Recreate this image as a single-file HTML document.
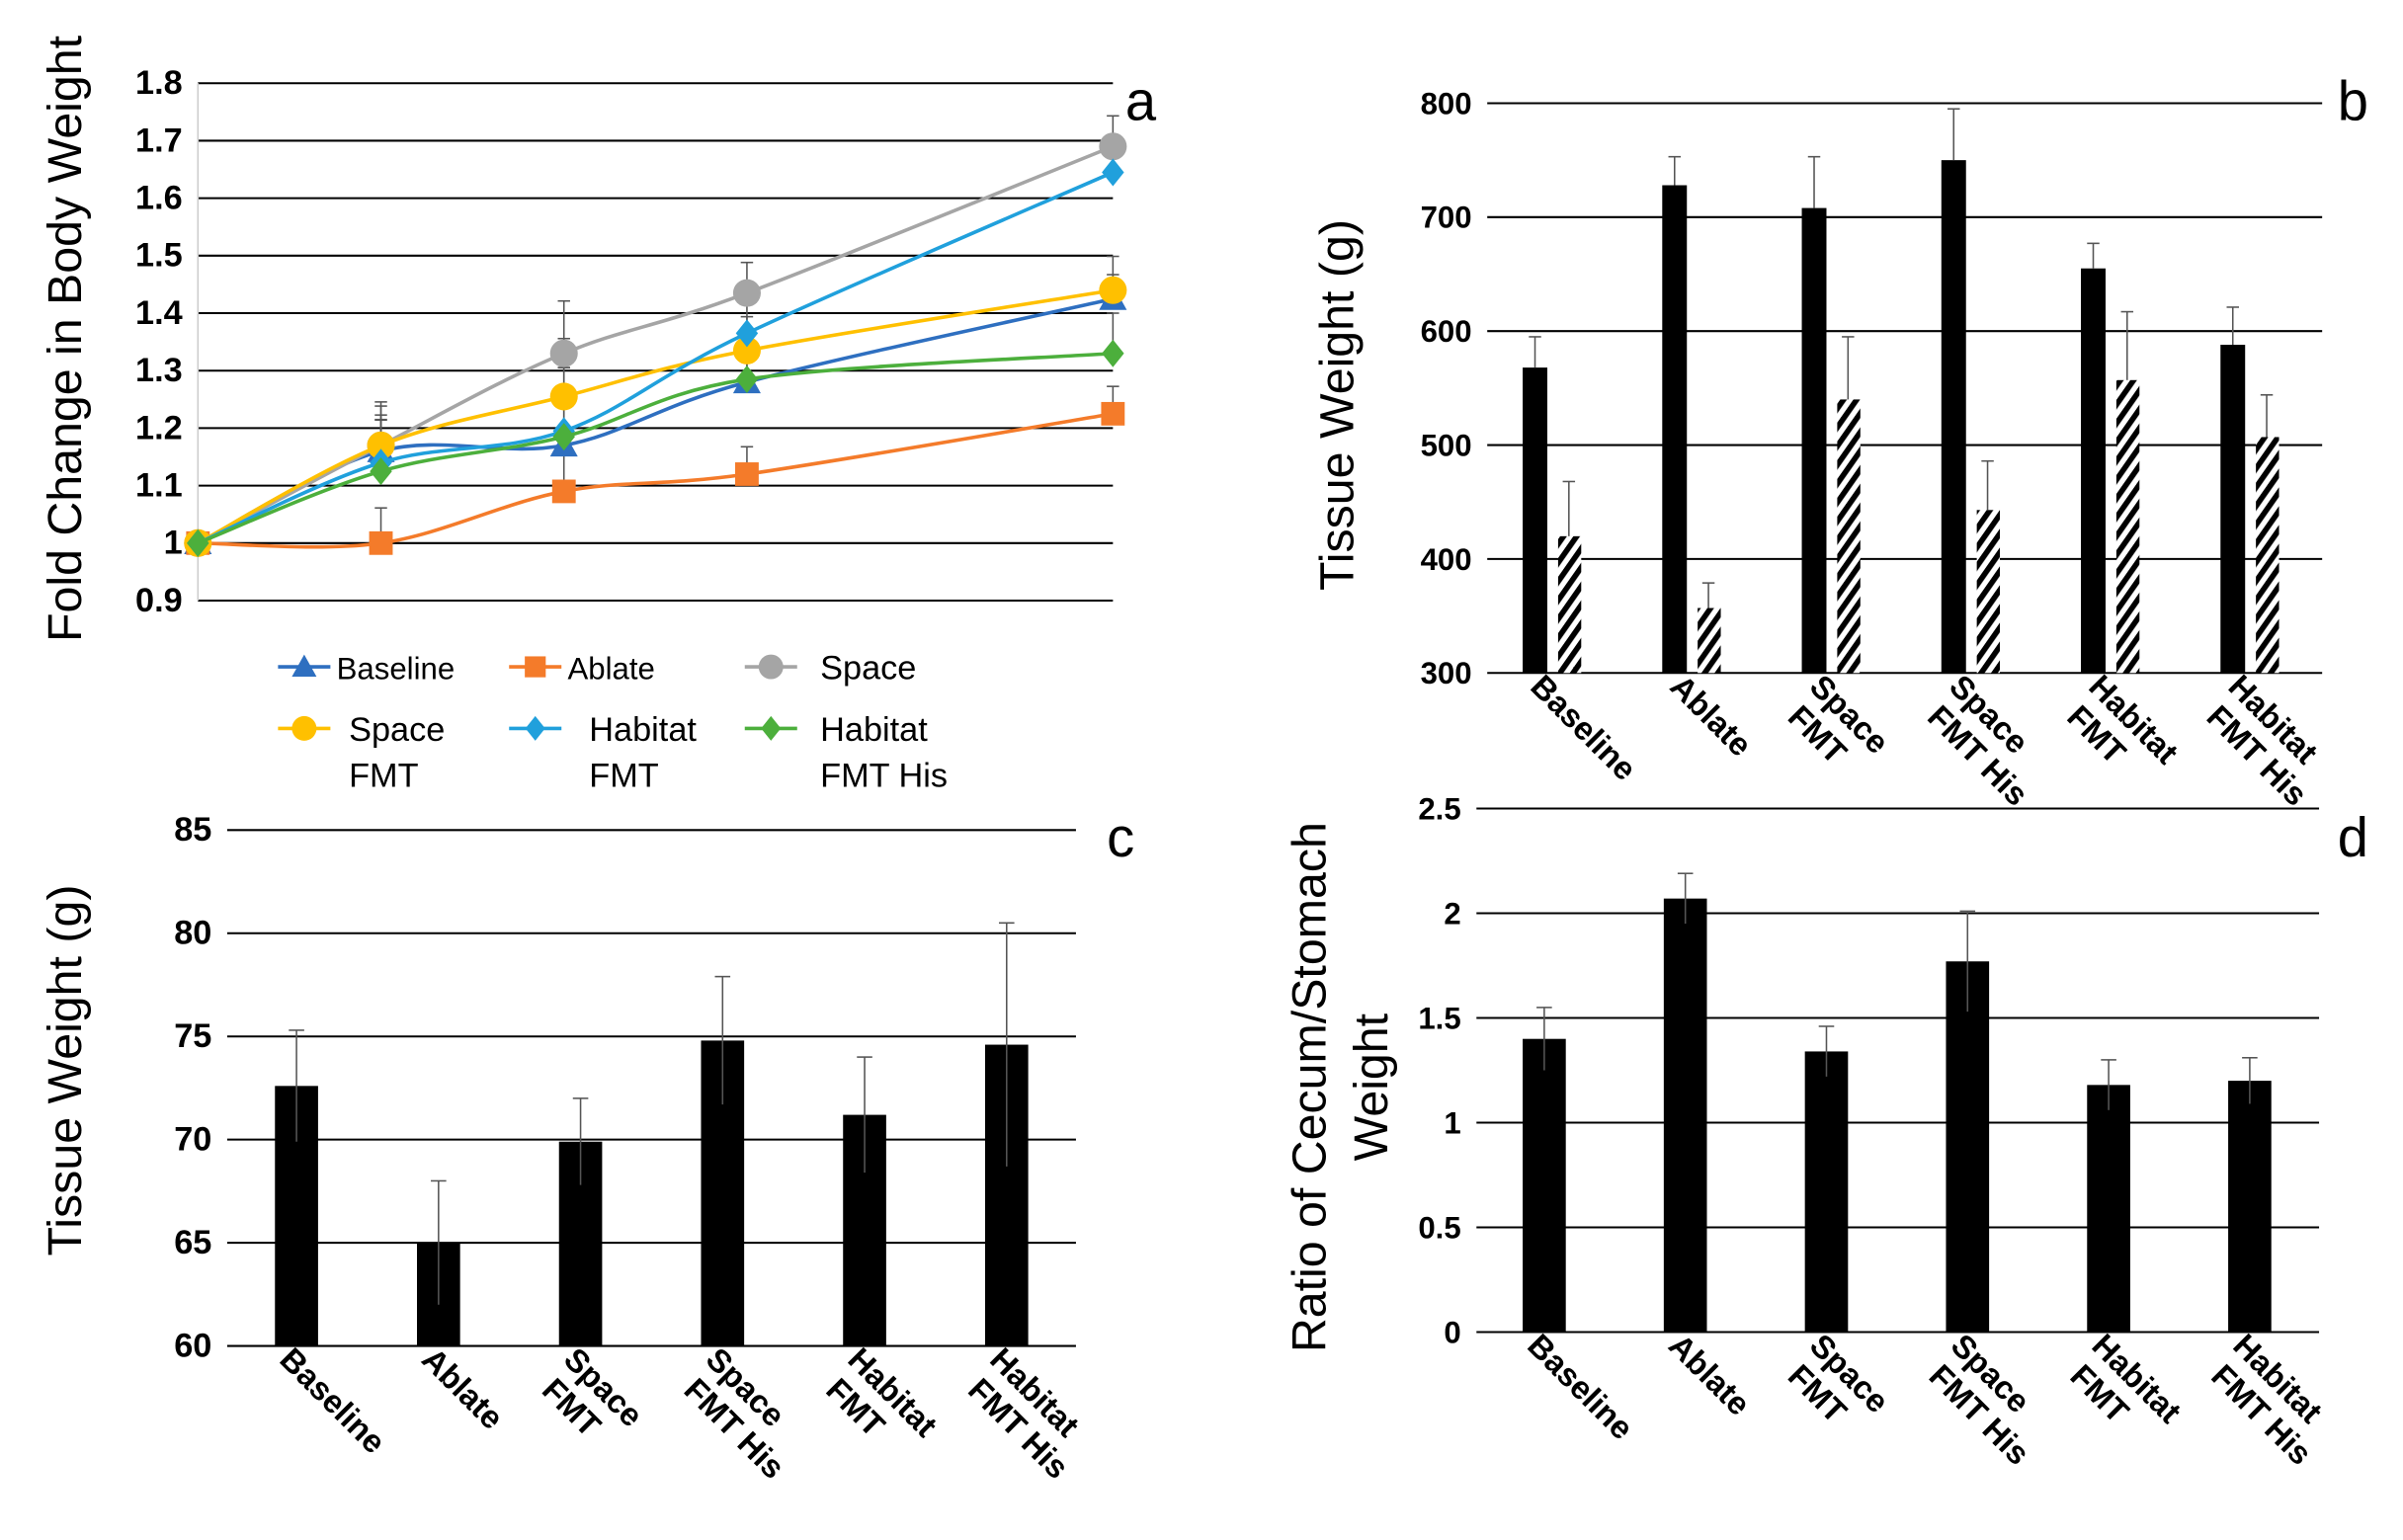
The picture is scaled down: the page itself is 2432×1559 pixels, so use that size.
<!DOCTYPE html>
<html><head><meta charset="utf-8"><style>
html,body{margin:0;padding:0;background:#fff}
svg{display:block;font-family:"Liberation Sans",sans-serif}
</style></head><body>
<svg id="fig" width="2432" height="1559" viewBox="0 0 1559 1000" xmlns="http://www.w3.org/2000/svg"></svg>
<script>
// Panel a data
const aX = [0,1,2,3,5];
const aTicks = [0.9,1,1.1,1.2,1.3,1.4,1.5,1.6,1.7,1.8];
const aNames = ["Baseline","Ablate","Space","Space FMT","Habitat FMT","Habitat FMT His"];
const aBaseline = [1,1.16,1.17,1.28,1.425];
const aAblate = [1,1.0,1.09,1.12,1.225];
const aSpace = [1,1.17,1.33,1.435,1.69];
const aSpaceFMT = [1,1.17,1.255,1.335,1.44];
const aHabFMT = [1,1.14,1.195,1.365,1.645];
const aHabHis = [1,1.125,1.185,1.285,1.33];
const aErr = [0,0.09,0.12,0.07,0.07];
// Panel b
const cats = ["Baseline","Ablate","Space FMT","Space FMT His","Habitat FMT","Habitat FMT His"];
const bTicks = [300,400,500,600,700,800];
const bSolid = [568,728,708,750,655,588];
const bSolidErr = [27,25,45,45,22,33];
const bHatch = [420,357,540,443,557,507];
const bHatchErr = [48,22,55,43,60,37];
// Panel c
const cTicks = [60,65,70,75,80,85];
const cVals = [72.6,65.0,69.9,74.8,71.2,74.6];
const cErr = [2.7,3.0,2.1,3.1,2.8,5.9];
// Panel d
const dTicks = [0,0.5,1,1.5,2,2.5];
const dVals = [1.40,2.07,1.34,1.77,1.18,1.20];
const dErr = [0.15,0.12,0.12,0.24,0.12,0.11];

const svg = document.getElementById('fig');
const NS = "http://www.w3.org/2000/svg";
function mk(tag, attrs, parent, text){
  const e = document.createElementNS(NS, tag);
  for (const k in attrs) e.setAttribute(k, attrs[k]);
  if (text !== undefined) e.textContent = text;
  (parent || svg).appendChild(e);
  return e;
}
const defs = mk('defs', {});
const pat = mk('pattern', {id:'hatch', width:'7', height:'7', patternUnits:'userSpaceOnUse', patternTransform:'rotate(35)'}, defs);
mk('rect', {width:'7', height:'7', fill:'#fff'}, pat);
mk('rect', {width:'3.6', height:'7', fill:'#000'}, pat);

function grid(g, x0, x1, ticks, y, fmt, fs){
  ticks.forEach(t => {
    const l = mk('line', {x1:x0, x2:x1, y1:y(t), y2:y(t), stroke:'#000', 'stroke-width':1.3}, g);
    
    
    const tx = mk('text', {x:x0-10, y:y(t)+7, 'text-anchor':'end', 'font-size':fs, 'font-weight':'bold'}, g, fmt(t));
    
    
  });
}
function errbar(g, x, yv, ye, w){
  mk('line', {x1:x, x2:x, y1:yv, y2:ye, stroke:'#555', 'stroke-width':1}, g);
  mk('line', {x1:x-w, x2:x+w, y1:ye, y2:ye, stroke:'#555', 'stroke-width':1}, g);
}
function catLabels(g, xs, yTop){
  cats.forEach((c, i) => {
    const parts = c === "Baseline" || c === "Ablate" ? [c] : (c.startsWith("Space") ? ["Space", c.slice(6)] : ["Habitat", c.slice(8)]);
    const t = mk('text', {transform:`translate(${xs(i)-12},${yTop+10}) rotate(45)`, 'font-size':21, 'font-weight':'bold'}, g);
    
    
    parts.forEach((p, k) => {
      mk('tspan', {x: k===0 ? 0 : 4, dy: k===0 ? 0 : 24}, t, p);
    });
  });
}

// ---------- Panel a ----------
const ga = mk('g', {});
const ay = v => 390 - (v-0.9)/0.1*37.33;
const ax = v => 128 + v*118.8;
grid(ga, 128, 722, aTicks, ay, t => t===1 ? "1" : t.toFixed(1), 22);
mk('line', {x1:128,x2:128,y1:54,y2:390,stroke:'#ccc','stroke-width':1}, ga);
mk('text', {transform:'translate(52,220) rotate(-90)','text-anchor':'middle','font-size':31,}, ga, 'Fold Change in Body Weight');
mk('text', {x:730,y:78,'font-size':36,}, ga, 'a');
const series = [aBaseline, aAblate, aSpace, aSpaceFMT, aHabFMT, aHabHis];
const colors = ['#2e6fc0','#f47b2a','#a5a5a5','#ffc000','#20a0dc','#4caf3c'];
const shapes = ['tri','sq','circ','circ','dia','dia'];
function marker(g, s, x, y, col, r){
  if (s==='tri') return mk('polygon', {points:`${x},${y-r} ${x-r},${y+r*0.8} ${x+r},${y+r*0.8}`, fill:col}, g);
  if (s==='sq') return mk('rect', {x:x-r*0.85,y:y-r*0.85,width:r*1.7,height:r*1.7,fill:col}, g);
  if (s==='circ') return mk('circle', {cx:x,cy:y,r:r,fill:col}, g);
  return mk('polygon', {points:`${x},${y-r} ${x+r*0.8},${y} ${x},${y+r} ${x-r*0.8},${y}`, fill:col}, g);
}
series.forEach((s, si) => {
  s.forEach((v, i) => { if (aErr[i]) errbar(ga, ax(aX[i]), ay(v), ay(v + aErr[i] * (0.6 + si*0.08)), 4); });
});
series.forEach((s, si) => {
  const g = mk('g', {}, ga);
  
  
  const pts = s.map((v, i) => [ax(aX[i]), ay(v)]);
  let d = `M${pts[0][0]},${pts[0][1]}`;
  for (let i = 1; i < pts.length; i++) {
    const p0 = pts[Math.max(0,i-2)], p1 = pts[i-1], p2 = pts[i], p3 = pts[Math.min(pts.length-1,i+1)];
    const c1 = [p1[0]+(p2[0]-p0[0])/6, p1[1]+(p2[1]-p0[1])/6];
    const c2 = [p2[0]-(p3[0]-p1[0])/6, p2[1]-(p3[1]-p1[1])/6];
    d += ` C${c1[0]},${c1[1]} ${c2[0]},${c2[1]} ${p2[0]},${p2[1]}`;
  }
  mk('path', {d, fill:'none', stroke:colors[si], 'stroke-width':2.3}, g);
  pts.forEach(p => {
    const m = marker(g, shapes[si], p[0], p[1], colors[si], 9);
    
    
  });
});
// legend
const legPos = [[180,433],[330,433],[483,433],[180,473],[330,473],[483,473]];
const legTxt = [["Baseline"],["Ablate"],["Space"],["Space","FMT"],["Habitat","FMT"],["Habitat","FMT His"]];
const legTx = [218,368,532,226,382,532];
legPos.forEach((p, i) => {
  const g = mk('g', {}, ga);
  
  
  mk('line', {x1:p[0],x2:p[0]+34,y1:p[1],y2:p[1],stroke:colors[i],'stroke-width':2.3}, g);
  marker(g, shapes[i], p[0]+17, p[1], colors[i], 8);
  legTxt[i].forEach((t, k) => mk('text', {x:legTx[i], y:p[1]+8+k*30, 'font-size':i<2?20:22}, g, t));
});

// ---------- Panel b ----------
const gb = mk('g', {});
const by = v => 437 - (v-300)/100*74;
const bx = i => 1006 + i*90.6;
grid(gb, 965, 1507, bTicks, by, t => String(t), 20);
mk('text', {transform:'translate(878,263) rotate(-90)','text-anchor':'middle','font-size':31,}, gb, 'Tissue Weight (g)');
mk('text', {x:1517,y:78,'font-size':36,}, gb, 'b');
cats.forEach((c, i) => {
  const r1 = mk('rect', {x:bx(i)-18, y:by(bSolid[i]), width:16, height:by(300)-by(bSolid[i]), fill:'#000'}, gb);
  
  
  errbar(gb, bx(i)-10, by(bSolid[i]), by(bSolid[i]+bSolidErr[i]), 4);
  const r2 = mk('rect', {x:bx(i)+5, y:by(bHatch[i]), width:15, height:by(300)-by(bHatch[i]), fill:'url(#hatch)'}, gb);
  
  
  errbar(gb, bx(i)+12, by(bHatch[i]), by(bHatch[i]+bHatchErr[i]), 4);
});
catLabels(gb, i => bx(i)-2, 437);

// ---------- Panel c ----------
const gc = mk('g', {});
const cy = v => 874 - (v-60)/5*67;
const cx = i => 192 + i*92.2;
grid(gc, 147, 698, cTicks, cy, t => String(t), 22);
mk('text', {transform:'translate(52,695) rotate(-90)','text-anchor':'middle','font-size':31,}, gc, 'Tissue Weight (g)');
mk('text', {x:718,y:556,'font-size':36,}, gc, 'c');
cVals.forEach((v, i) => {
  const r = mk('rect', {x:cx(i)-14, y:cy(v), width:28, height:cy(60)-cy(v), fill:'#000'}, gc);
  
  
  errbar(gc, cx(i), cy(v-cErr[i]), cy(v+cErr[i]), 5);
});
catLabels(gc, cx, 874);

// ---------- Panel d ----------
const gd = mk('g', {});
const dy = v => 865 - v/0.5*68;
const dx = i => 1002 + i*91.6;
grid(gd, 958, 1505, dTicks, dy, t => String(t), 20);
mk('text', {transform:'translate(860,706) rotate(-90)','text-anchor':'middle','font-size':31,}, gd, 'Ratio of Cecum/Stomach');
mk('text', {transform:'translate(900,706) rotate(-90)','text-anchor':'middle','font-size':31}, gd, 'Weight');
mk('text', {x:1517,y:556,'font-size':36,}, gd, 'd');
dVals.forEach((v, i) => {
  const r = mk('rect', {x:dx(i)-14, y:dy(v), width:28, height:dy(0)-dy(v), fill:'#000'}, gd);
  
  
  errbar(gd, dx(i), dy(v-dErr[i]), dy(v+dErr[i]), 5);
});
catLabels(gd, dx, 865);
</script>
</body></html>
